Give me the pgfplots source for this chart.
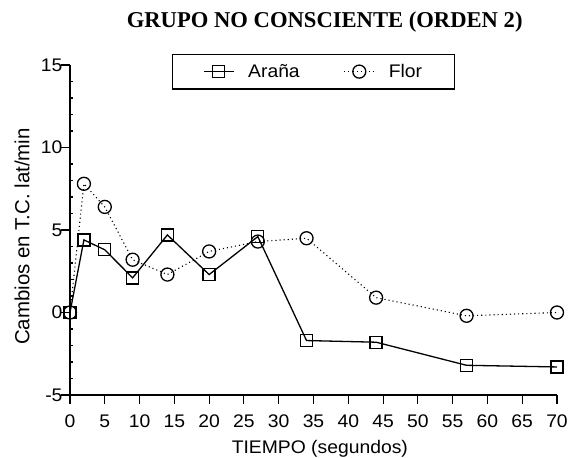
\documentclass[border=0pt]{standalone}
\usepackage{fontspec}
\setmainfont{Liberation Sans}[FakeStretch=1.06]
\newfontfamily\plainsans{Liberation Sans}
\newfontfamily\titlefont{Liberation Serif}
\usepackage{pgfplots}
\pgfplotsset{compat=1.18}
\begin{document}
\begin{tikzpicture}
\useasboundingbox (-70bp,-63bp) rectangle (506bp,395bp);
\begin{axis}[
  at={(0,0)}, anchor=south west,
  scale only axis, width=487bp, height=330bp,
  xmin=0, xmax=70, ymin=-5, ymax=15,
  axis x line=bottom, axis y line=left,
  axis line style={-, line width=1.3bp},
  xtick={0,5,...,70}, ytick={-5,0,5,10,15},
  extra y ticks={-4,-3,-2,-1,1,2,3,4,6,7,8,9,11,12,13,14},
  extra y tick labels={},
  extra y tick style={tick align=inside, major tick length=3bp},
  tick align=outside,
  major tick length=9bp,
  tick style={line width=1.1bp, black},
  clip=false,
  font=\fontsize{18.3}{21}\selectfont,
  /pgf/number format/assume math mode=true,
  ticklabel style={font=\fontsize{18.3}{21}\selectfont},
  yticklabel style={xshift=5bp},
  xticklabel style={yshift=-7bp},
  xlabel={TIEMPO (segundos)},
  ylabel={\fontsize{20.5}{23}\selectfont\plainsans Cambios en T.C. lat/min},
  xlabel style={at={(axis description cs:0.513,-0.176)}, anchor=base},
  ylabel style={at={(axis description cs:-0.0986,0.48)}, anchor=center},
  title={\fontsize{22.7}{25}\selectfont\titlefont\bfseries GRUPO NO CONSCIENTE (ORDEN 2)},
  title style={at={(axis description cs:0.523,1.097)}, anchor=base},
  legend columns=2,
  legend style={at={(axis description cs:0.5,0.980)}, anchor=center,
    draw=black, line width=1.2bp, inner xsep=30bp, inner ysep=8bp,
    font=\fontsize{18.3}{21}\selectfont,
    /tikz/every odd column/.append style={column sep=12bp},
    /tikz/every even column/.append style={column sep=42bp}},
  legend image code/.code={\draw[mark repeat=2,mark phase=2] plot coordinates {(0bp,0bp) (15bp,0bp) (30bp,0bp)};},
]
\addplot[black, line width=1.3bp, mark=square, mark size=6bp, mark options={solid, line width=1.3bp}]
coordinates {(0,0) (2,4.4) (5,3.8) (9,2.1) (14,4.7) (20,2.3) (27,4.6) (34,-1.7) (44,-1.8) (57,-3.2) (70,-3.3)};
\addlegendentry{Araña}
\addplot[black, line width=1.1bp, dash pattern=on 1.1bp off 3bp, mark=o, mark size=6.5bp, mark options={solid, line width=1.3bp}]
coordinates {(0,0) (2,7.8) (5,6.4) (9,3.2) (14,2.3) (20,3.7) (27,4.3) (34,4.5) (44,0.9) (57,-0.2) (70,0)};
\addlegendentry{Flor}
\end{axis}
\end{tikzpicture}
\end{document}
